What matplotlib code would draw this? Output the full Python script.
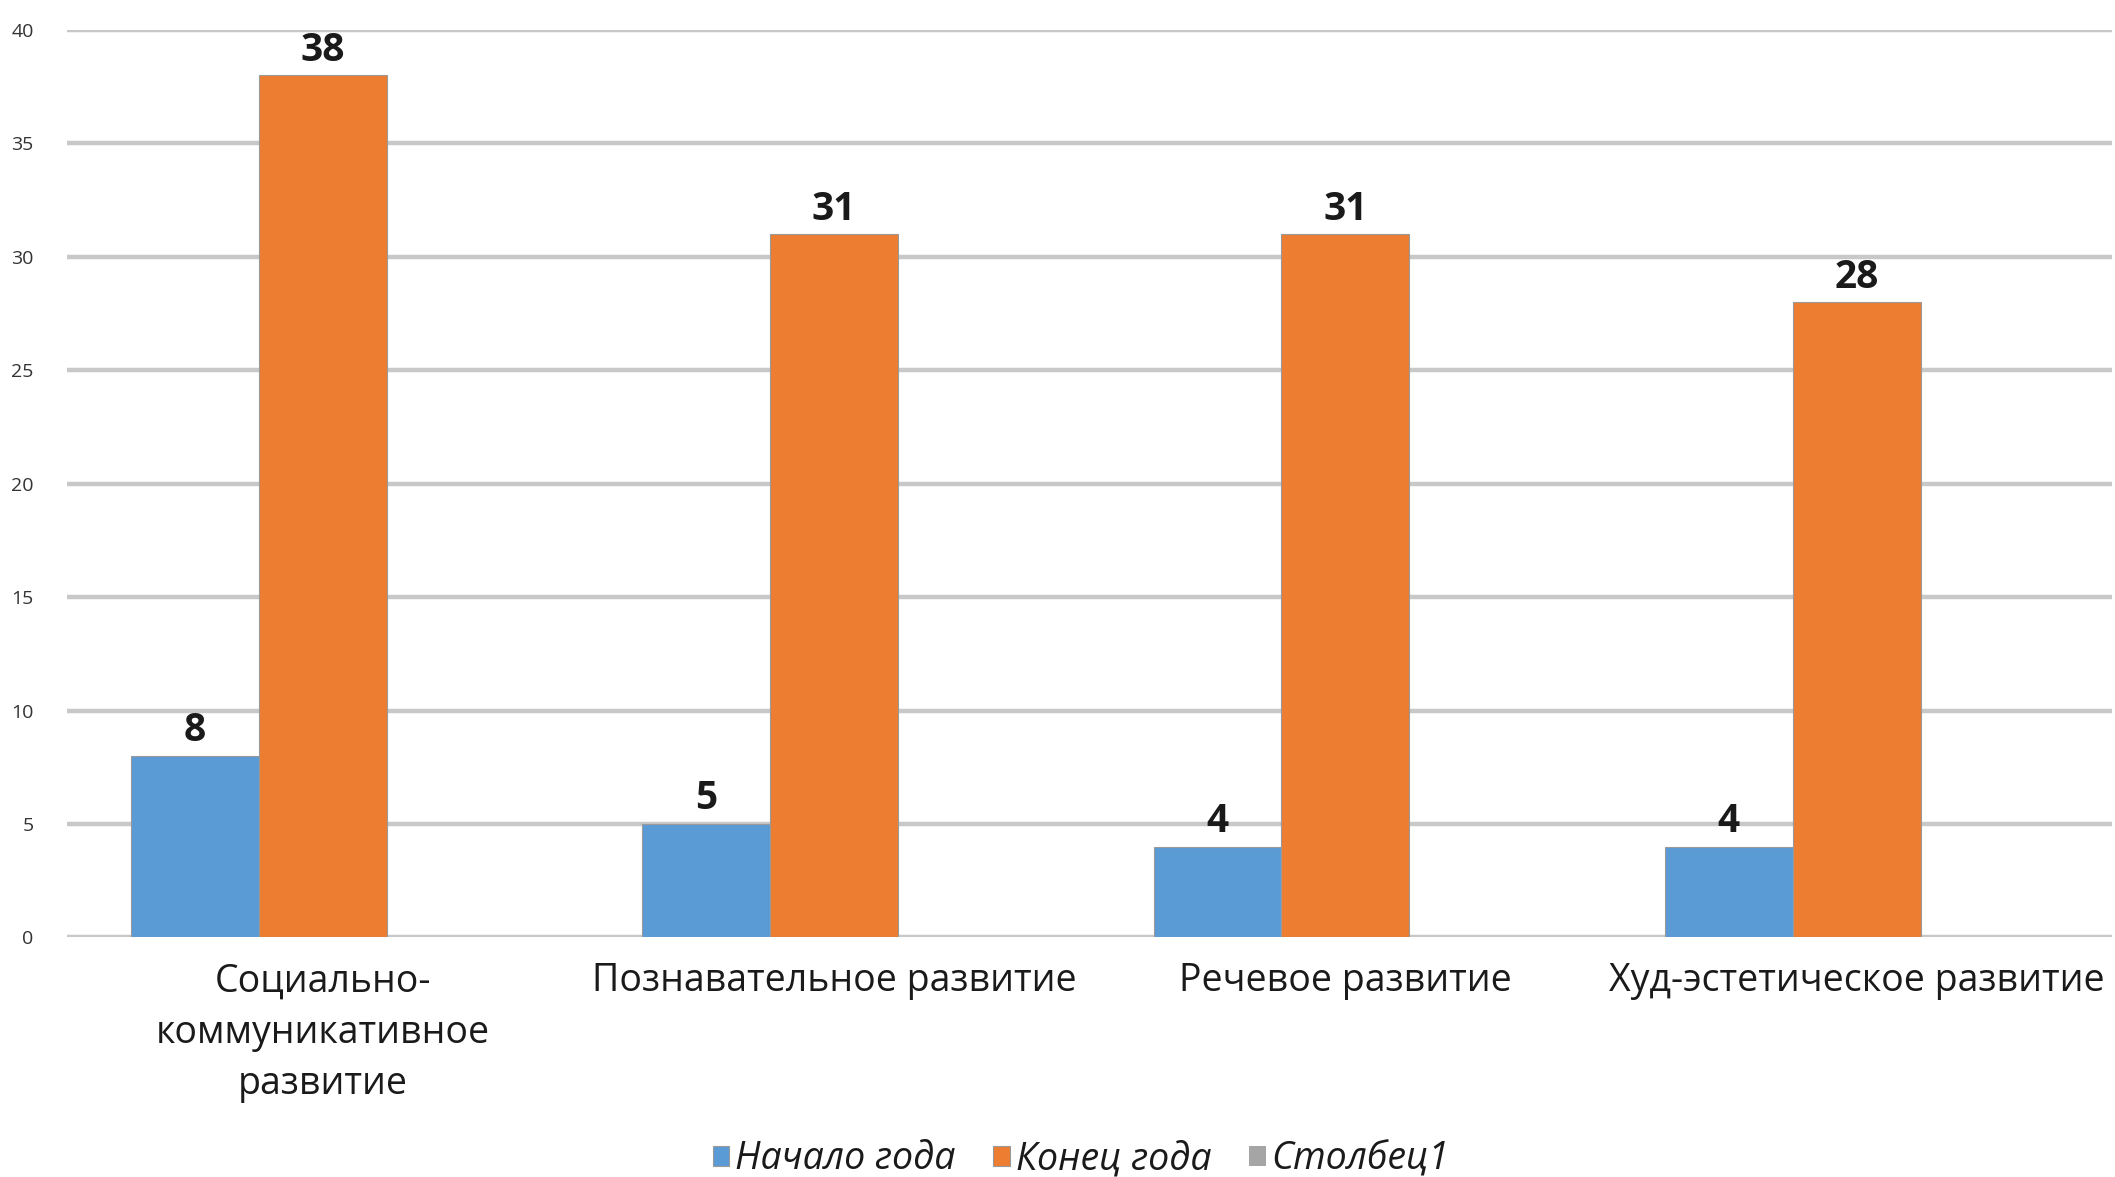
import matplotlib.pyplot as plt
import numpy as np

plt.rcParams['font.family'] = ['Open Sans', 'DejaVu Sans']

categories = ["Социально-\nкоммуникативное\nразвитие", "Познавательное развитие",
              "Речевое развитие", "Худ-эстетическое развитие"]
nachalo = [8, 5, 4, 4]
konec = [38, 31, 31, 28]
stolbec1 = [0, 0, 0, 0]

fig = plt.figure(figsize=(21.15, 11.77), dpi=100)
ax = fig.add_axes([0.0317, 0.2035, 0.967, 0.771])

x = np.arange(len(categories))
w = 0.25
b1 = ax.bar(x - w, nachalo, w, color='#5B9BD5', edgecolor='#9a9a9a', linewidth=0.8, label='Начало года', zorder=3)
b2 = ax.bar(x, konec, w, color='#ED7D31', edgecolor='#9a9a9a', linewidth=0.8, label='Конец года', zorder=3)
b3 = ax.bar(x + w, stolbec1, w, color='#A5A5A5', label='Столбец1', zorder=3)

for bars in (b1, b2):
    for r in bars:
        ax.annotate(str(int(r.get_height())), (r.get_x() + r.get_width() / 2, r.get_height()),
                    xytext=(0, 4), textcoords='offset points', ha='center', va='bottom',
                    fontsize=28, fontweight='bold', color='#1a1a1a')

ax.set_xlim(-0.5, 3.5)
ax.set_ylim(0, 40)
ax.set_yticks(range(0, 41, 5))
ax.set_xticks(x)
ax.set_xticklabels(categories, fontsize=27, color='#1a1a1a', linespacing=1.45)
ax.tick_params(axis='y', labelsize=14, colors='#333333', length=0, pad=24)
ax.tick_params(axis='x', length=0, pad=18)
ax.yaxis.grid(True, color='#c8c8c8', linewidth=3.2, zorder=0)
for s in ax.spines.values():
    s.set_visible(False)

fig.legend(handles=[b1, b2, b3], loc='center', bbox_to_anchor=(0.511, 0.015), ncol=3,
           frameon=False, prop={'size': 27, 'style': 'italic'}, handlelength=0.45,
           handleheight=0.45, handletextpad=0.15, columnspacing=1.0, labelcolor='#1a1a1a')

plt.savefig("out.png", dpi=100)
